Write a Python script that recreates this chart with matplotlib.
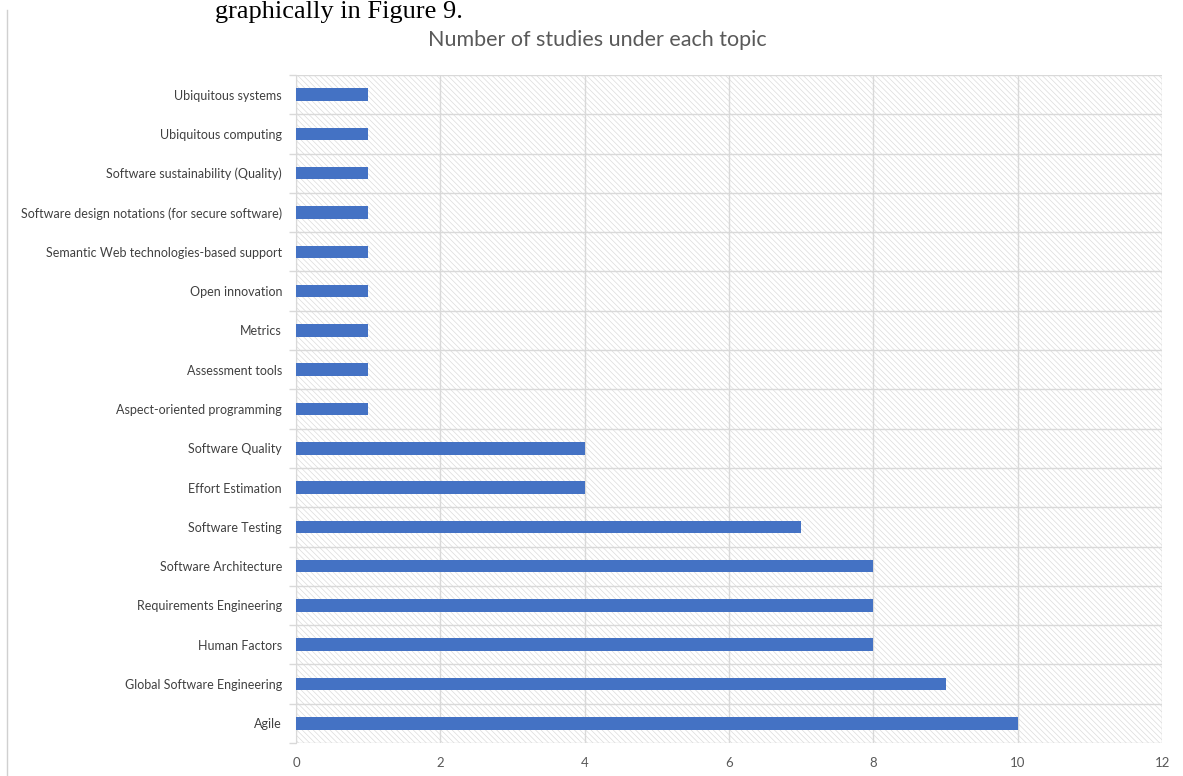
import matplotlib.pyplot as plt
from matplotlib.patches import Rectangle
import numpy as np

topics = ['Agile', 'Global Software Engineering', 'Human Factors',
          'Requirements Engineering', 'Software Architecture', 'Software Testing',
          'Effort Estimation', 'Software Quality', 'Aspect-oriented programming',
          'Assessment tools', 'Metrics', 'Open innovation',
          'Semantic Web technologies-based support',
          'Software design notations (for secure software)',
          'Software sustainability (Quality)', 'Ubiquitous computing',
          'Ubiquitous systems']
counts = [10, 9, 8, 8, 8, 7, 4, 4, 1, 1, 1, 1, 1, 1, 1, 1, 1]
x_ticks = [0, 2, 4, 6, 8, 10, 12]

plt.rcParams['font.family'] = ['Lato', 'DejaVu Sans']
plt.rcParams['hatch.linewidth'] = 0.5

fig = plt.figure(figsize=(11.83, 7.76), dpi=100)
ax = fig.add_axes([0.2502, 0.0425, 0.7321, 0.8609])

# hatched plot background
bg = Rectangle((0, 0), 1, 1, transform=ax.transAxes, facecolor='white',
               edgecolor='#dcdcdc', hatch='\\\\\\\\\\\\', linewidth=0, zorder=0)
ax.add_patch(bg)

y = np.arange(len(topics))
ax.barh(y, counts, height=0.32, color='#4472c4', zorder=3)

ax.set_xlim(0, 12)
ax.set_ylim(-0.5, len(topics) - 0.5)
ax.set_xticks(x_ticks)
ax.set_xticklabels([str(t) for t in x_ticks], fontsize=9.5, color='#595959')
ax.set_yticks(y)
ax.set_yticklabels(topics, fontsize=9, color='#404040')
ax.tick_params(axis='y', length=0, pad=10)
ax.tick_params(axis='x', length=0, pad=10)

# category boundaries and value gridlines
ax.set_yticks(np.arange(-0.5, len(topics), 1), minor=True)
ax.tick_params(axis='y', which='minor', length=5, color='#d9d9d9', width=1)
ax.grid(axis='y', which='minor', color='#d9d9d9', linewidth=1, zorder=1)
ax.grid(axis='x', which='major', color='#d9d9d9', linewidth=1, zorder=1)
for s in ['top', 'right', 'bottom']:
    ax.spines[s].set_visible(False)
ax.spines['left'].set_color('#d9d9d9')
ax.set_axisbelow(True)

fig.text(0.505, 0.948, 'Number of studies under each topic', fontsize=15.5,
         color='#595959', ha='center', va='center')

# line of body text and page margin rule above the figure
fig.text(0.182, 0.999, 'graphically in Figure 9.', fontsize=19,
         family=['Liberation Serif', 'DejaVu Serif'], color='black',
         ha='left', va='top')
fig.add_artist(plt.Line2D([0.006, 0.006], [0.0, 0.987], color='#d0d0d0',
                          linewidth=1, transform=fig.transFigure))

fig.savefig('out.png', dpi=100)
